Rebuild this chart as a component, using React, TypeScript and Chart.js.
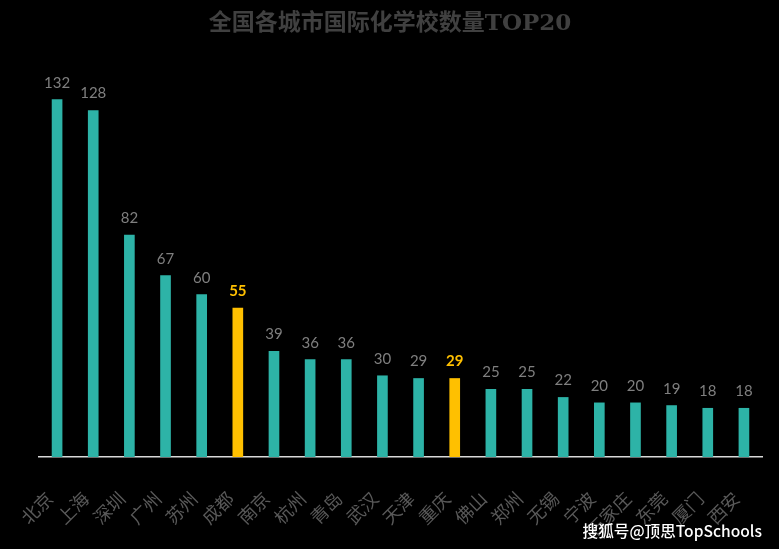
import React, { useEffect, useRef } from "react";
import { Chart, registerables } from "chart.js";

Chart.register(...registerables);

const cities = ["北京", "上海", "深圳", "广州", "苏州", "成都", "南京", "杭州", "青岛", "武汉", "天津", "重庆", "佛山", "郑州", "无锡", "宁波", "石家庄", "东莞", "厦门", "西安"];
const schoolCounts = [132, 128, 82, 67, 60, 55, 39, 36, 36, 30, 29, 29, 25, 25, 22, 20, 20, 19, 18, 18];
const highlighted = ["成都", "重庆"];
const titleText = "全国各城市国际化学校数量TOP20";
const watermarkText = "搜狐号@顶思TopSchools";

const TEAL = "#2db3a7";
const GOLD = "#ffc000";

export default function App() {
  const ref = useRef<HTMLCanvasElement | null>(null);
  useEffect(() => {
    if (!ref.current) return;
    const colors = cities.map((c) => (highlighted.includes(c) ? GOLD : TEAL));
    const overlay = {
      id: "overlay",
      beforeDraw(chart: any) {
        const { ctx, width, height } = chart;
        ctx.save();
        ctx.fillStyle = "#000000";
        ctx.fillRect(0, 0, width, height);
        ctx.restore();
      },
      afterDatasetsDraw(chart: any) {
        const { ctx } = chart;
        const meta = chart.getDatasetMeta(0);
        ctx.save();
        ctx.textAlign = "center";
        ctx.textBaseline = "alphabetic";
        meta.data.forEach((bar: any, i: number) => {
          const hi = highlighted.includes(cities[i]);
          ctx.font = (hi ? "bold " : "") + "15px Lato, 'Open Sans', sans-serif";
          ctx.fillStyle = hi ? GOLD : "#7f7f7f";
          ctx.fillText(String(schoolCounts[i]), bar.x, bar.y - 12);
        });
        // title
        ctx.font = "bold 23px 'DejaVu Serif', 'Liberation Serif', 'Noto Sans CJK SC', serif";
        ctx.fillStyle = "#404040";
        ctx.textBaseline = "middle";
        ctx.fillText(titleText, 390, 24);
        // watermark
        ctx.font = "500 15.6px 'Noto Sans CJK SC', sans-serif";
        ctx.fillStyle = "#ffffff";
        ctx.textAlign = "right";
        ctx.fillText(watermarkText, 762, 531);
        ctx.restore();
      },
    };
    const chart = new Chart(ref.current, {
      type: "bar",
      data: {
        labels: cities,
        datasets: [
          {
            data: schoolCounts,
            backgroundColor: colors,
            barThickness: 10,
          },
        ],
      },
      options: {
        animation: false,
        responsive: false,
        maintainAspectRatio: false,
        layout: { padding: { left: 39, right: 17, top: 78, bottom: 0 } },
        plugins: {
          legend: { display: false },
          tooltip: { enabled: false },
          title: { display: false },
        },
        scales: {
          x: {
            grid: { display: false },
            border: { display: true, color: "#d9d9d9", width: 1.5 },
            ticks: {
              color: "#595959",
              font: { size: 18, family: "'Liberation Serif', 'Noto Sans CJK SC', serif" },
              minRotation: 45,
              maxRotation: 45,
              padding: 24,
              labelOffset: -6,
              autoSkip: false,
            },
            afterFit(scale: any) {
              scale.height = 92;
              scale.paddingLeft = 0;
              scale.paddingRight = 0;
            },
          },
          y: {
            display: false,
            min: 0,
            max: 140,
          },
        },
      },
      plugins: [overlay],
    });
    return () => chart.destroy();
  }, []);
  return (
    <div style={{ position: "fixed", left: 0, top: 0, width: 779, height: 549, background: "#000" }}>
      <canvas ref={ref} width={779} height={549} style={{ display: "block", width: 779, height: 549 }} />
    </div>
  );
}
